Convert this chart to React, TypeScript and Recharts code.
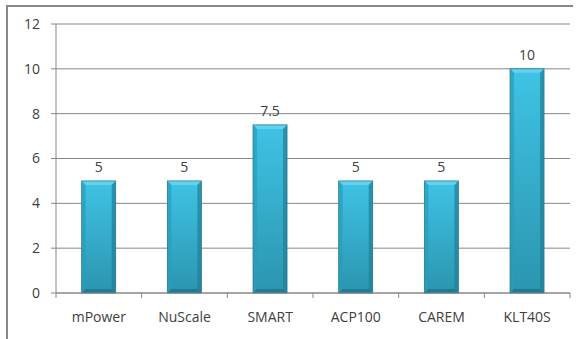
import React from 'react'
import { BarChart, Bar, XAxis, YAxis, CartesianGrid, LabelList } from 'recharts'

const reactors = ['mPower', 'NuScale', 'SMART', 'ACP100', 'CAREM', 'KLT40S']
const values = [5, 5, 7.5, 5, 5, 10]
const yTicks = [0, 2, 4, 6, 8, 10, 12]

const data = reactors.map((name, i) => ({ name, value: values[i] }))

const TEXT = '#404040'
const LINE = '#878787'
const FONT = '"Open Sans", "Noto Sans", sans-serif'
const LABEL_GAP = 19

// bevelled column, a bit like the office chart style
const BevelBar = (props: any) => {
  const { x, y, width, height } = props
  if (!height || height <= 0) return null
  const b = 4
  return (
    <g>
      <rect x={x} y={y} width={width} height={height} fill="url(#colFill)" />
      <polygon
        points={`${x},${y} ${x + width},${y} ${x + width - b},${y + b} ${x + b},${y + b}`}
        fill="#63d2ef"
      />
      <polygon
        points={`${x},${y} ${x + b},${y + b} ${x + b},${y + height - b} ${x},${y + height}`}
        fill="#2a9dbb"
        opacity={0.7}
      />
      <polygon
        points={`${x + width},${y} ${x + width - b},${y + b} ${x + width - b},${y + height - b} ${x + width},${y + height}`}
        fill="#1f7f97"
        opacity={0.7}
      />
      <polygon
        points={`${x},${y + height} ${x + b},${y + height - b} ${x + width - b},${y + height - b} ${x + width},${y + height}`}
        fill="#1d6f84"
        opacity={0.7}
      />
      <rect x={x} y={y} width={width} height={height} fill="none" stroke="#2a7d92" strokeWidth={0.8} />
    </g>
  )
}

// category label plus the small tick marks that sit between categories
const CategoryTick = (props: any) => {
  const { x, y, payload, index, visibleTicksCount } = props
  const half = payload.offset ?? 0
  const axisY = y - LABEL_GAP
  const last = index === (visibleTicksCount ?? reactors.length) - 1
  return (
    <g>
      <line x1={x - half} x2={x - half} y1={axisY} y2={axisY + 5} stroke={LINE} />
      {last && <line x1={x + half} x2={x + half} y1={axisY} y2={axisY + 5} stroke={LINE} />}
      <text x={x} y={y} dy="0.71em" textAnchor="middle" fill={TEXT} fontSize={14}>
        {payload.value}
      </text>
    </g>
  )
}

export default function App() {
  return (
    <div style={{ position: 'relative', width: 581, height: 339, overflow: 'hidden', background: '#fff' }}>
      <style>{'body { margin: 0; }'}</style>
      <BarChart
        width={581}
        height={339}
        data={data}
        margin={{ top: 24, right: 11, bottom: 0, left: 0 }}
        barCategoryGap="30%"
        style={{ fontFamily: FONT }}
      >
        <defs>
          <linearGradient id="colFill" x1="0" y1="0" x2="0" y2="1">
            <stop offset="0%" stopColor="#3fc3e5" />
            <stop offset="100%" stopColor="#2b95af" />
          </linearGradient>
        </defs>
        <CartesianGrid vertical={false} stroke={LINE} strokeWidth={1} />
        <XAxis
          dataKey="name"
          height={46}
          axisLine={{ stroke: LINE }}
          tickLine={false}
          tickSize={0}
          tickMargin={LABEL_GAP}
          interval={0}
          tick={<CategoryTick />}
        />
        <YAxis
          domain={[0, 12]}
          ticks={yTicks}
          width={56}
          axisLine={{ stroke: LINE }}
          tickLine={{ stroke: LINE }}
          tickSize={5}
          tickMargin={11}
          tick={{ fill: TEXT, fontSize: 14 }}
        />
        <Bar dataKey="value" shape={<BevelBar />} isAnimationActive={false}>
          <LabelList dataKey="value" position="top" offset={9} fill={TEXT} fontSize={14} />
        </Bar>
      </BarChart>
      {/* frame around the chart area; its right and bottom edges fall off the page */}
      <div
        style={{
          position: 'absolute',
          left: 6,
          top: 5,
          width: 565,
          height: 400,
          borderTop: `2px solid ${LINE}`,
          borderLeft: `2px solid ${LINE}`,
          pointerEvents: 'none',
        }}
      />
    </div>
  )
}
